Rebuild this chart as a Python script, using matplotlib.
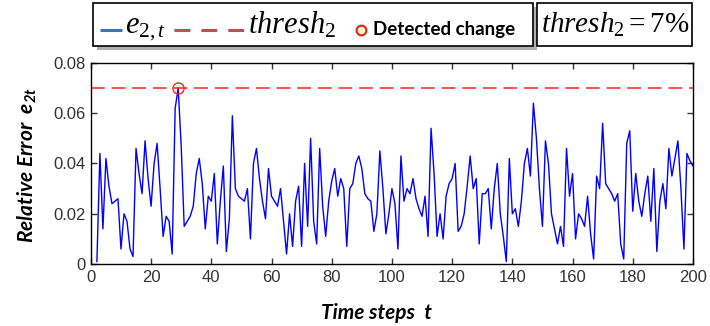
import numpy as np
import matplotlib.pyplot as plt
from matplotlib.patches import Rectangle

plt.rcParams['mathtext.fontset'] = 'custom'
plt.rcParams['mathtext.rm'] = 'Liberation Serif'
plt.rcParams['mathtext.it'] = 'Liberation Serif:italic'
plt.rcParams['mathtext.bf'] = 'Liberation Serif:bold'
has_bfit = 'mathtext.bfit' in plt.rcParams
if has_bfit:
    plt.rcParams['mathtext.bfit'] = 'Lato:italic:bold'

# relative error e_{2,t} (t = 2..200)
t = np.arange(2, 201)
err = [0.001, 0.044, 0.014, 0.042, 0.031, 0.024, 0.025, 0.026, 0.006, 0.020,
       0.017, 0.006, 0.003, 0.046, 0.036, 0.028, 0.049, 0.034, 0.023, 0.040,
       0.048, 0.030, 0.011,
       0.019, 0.017, 0.004, 0.062, 0.070, 0.047, 0.015, 0.017, 0.019, 0.023,
       0.036, 0.042, 0.032, 0.014, 0.027, 0.025, 0.036, 0.008, 0.025, 0.039,
       0.005, 0.018, 0.059, 0.030, 0.027,
       0.026, 0.025, 0.030, 0.010, 0.040, 0.046, 0.034, 0.025, 0.018, 0.038,
       0.027, 0.025, 0.023, 0.030, 0.017, 0.004, 0.020, 0.007, 0.025, 0.031,
       0.007, 0.040, 0.015, 0.050, 0.017, 0.008,
       0.046, 0.023, 0.011, 0.025, 0.033, 0.038, 0.027, 0.034, 0.030, 0.007,
       0.030, 0.032, 0.040, 0.043, 0.038, 0.028, 0.026, 0.025, 0.013, 0.020,
       0.045, 0.030, 0.012, 0.020,
       0.030, 0.024, 0.006, 0.043, 0.025, 0.030, 0.028, 0.034, 0.026, 0.022,
       0.019, 0.027, 0.011, 0.054, 0.036, 0.011, 0.020, 0.010, 0.027, 0.032,
       0.034, 0.040, 0.013, 0.015, 0.020,
       0.031, 0.043, 0.030, 0.034, 0.008, 0.028, 0.028, 0.030, 0.014, 0.030,
       0.040, 0.020, 0.011, 0.001, 0.042, 0.020, 0.022, 0.015, 0.025, 0.040,
       0.046, 0.035, 0.064, 0.050, 0.030, 0.015,
       0.049, 0.040, 0.020, 0.014, 0.008, 0.015, 0.007, 0.046, 0.027, 0.036,
       0.010, 0.020, 0.018, 0.015, 0.027, 0.012, 0.002, 0.035, 0.030, 0.056,
       0.032, 0.030, 0.028, 0.025, 0.028,
       0.008, 0.002, 0.048, 0.053, 0.021, 0.036, 0.025, 0.019, 0.028, 0.035,
       0.017, 0.038, 0.005, 0.025, 0.032, 0.022, 0.046, 0.035, 0.042, 0.049,
       0.030, 0.006, 0.044, 0.041, 0.039]
thresh = 0.07
t_detect = [29]
e_detect = [0.070]

xticks = [0, 20, 40, 60, 80, 100, 120, 140, 160, 180, 200]
yticks = [0, 0.02, 0.04, 0.06, 0.08]
ytick_labels = ['0', '0.02', '0.04', '0.06', '0.08']

fig = plt.figure(figsize=(7.1, 3.26), dpi=100)
ax = fig.add_axes([0.128, 0.190, 0.848, 0.617])

ax.plot(t, err, color='#0000ff', lw=1.0)
ax.axhline(thresh, color='#ff2020', lw=1.1, linestyle=(0, (9, 4.5)))
ax.plot(t_detect, e_detect, 'o', ms=8, mfc='none', mec='#ff2020', mew=1.0)

ax.set_xlim(0, 200)
ax.set_ylim(0, 0.08)
ax.set_xticks(xticks)
ax.set_yticks(yticks)
ax.set_yticklabels(ytick_labels)
ax.tick_params(direction='in', top=True, right=True, length=4, width=1,
               labelsize=12, colors='#333333', pad=4)
for lab in ax.get_xticklabels() + ax.get_yticklabels():
    lab.set_family('Liberation Sans')
for s in ax.spines.values():
    s.set_linewidth(1.0)
    s.set_color('black')

ax.set_xlabel('Time steps  t', fontsize=15, fontweight='bold', fontstyle='italic',
              family=['Lato', 'DejaVu Sans'])
ax.xaxis.set_label_coords(0.475, -0.195)
if has_bfit:
    ylab = r'Relative Error  $\mathbfit{e}_{\mathbfit{2t}}$'
else:
    ylab = 'Relative Error  e2t'
ax.set_ylabel(ylab, fontsize=15, fontweight='bold', fontstyle='italic',
              family=['Lato', 'DejaVu Sans'])
ax.yaxis.set_label_coords(-0.088, 0.49)

# legend / annotation boxes drawn in pixel coordinates on top
lax = fig.add_axes([0, 0, 1, 1])
lax.set_xlim(0, 710)
lax.set_ylim(326, 0)
lax.axis('off')

lax.add_patch(Rectangle((97, 7), 440, 43, facecolor='#7a7a7a', edgecolor='none', alpha=0.6))
lax.add_patch(Rectangle((93, 3), 440, 43, facecolor='white', edgecolor='black', lw=1.2))
lax.plot([100, 122], [30, 30], color='#3a74c0', lw=2.2, solid_capstyle='butt')
lax.text(125, 33, r'$e_{2,t}$', fontsize=22, va='baseline', ha='left')
lax.plot([174, 244], [30, 30], color='#c0504d', lw=2.2, linestyle=(0, (5.2, 3.6)))
lax.text(248, 33, r'$thresh_2$', fontsize=22, va='baseline', ha='left')
lax.plot([361], [30], 'o', ms=7, mfc='#ffffc8', mec='#e02020', mew=1.5)
lax.text(373, 35, 'Detected change', fontsize=13.5, fontweight='bold', va='baseline',
         ha='left', family=['Lato', 'DejaVu Sans'])

lax.add_patch(Rectangle((537, 3), 155, 43, facecolor='white', edgecolor='black', lw=1.2))
lax.text(541, 33, r'$thresh_2=7\%$', fontsize=21, va='baseline', ha='left')

fig.savefig('out.png', dpi=100)
